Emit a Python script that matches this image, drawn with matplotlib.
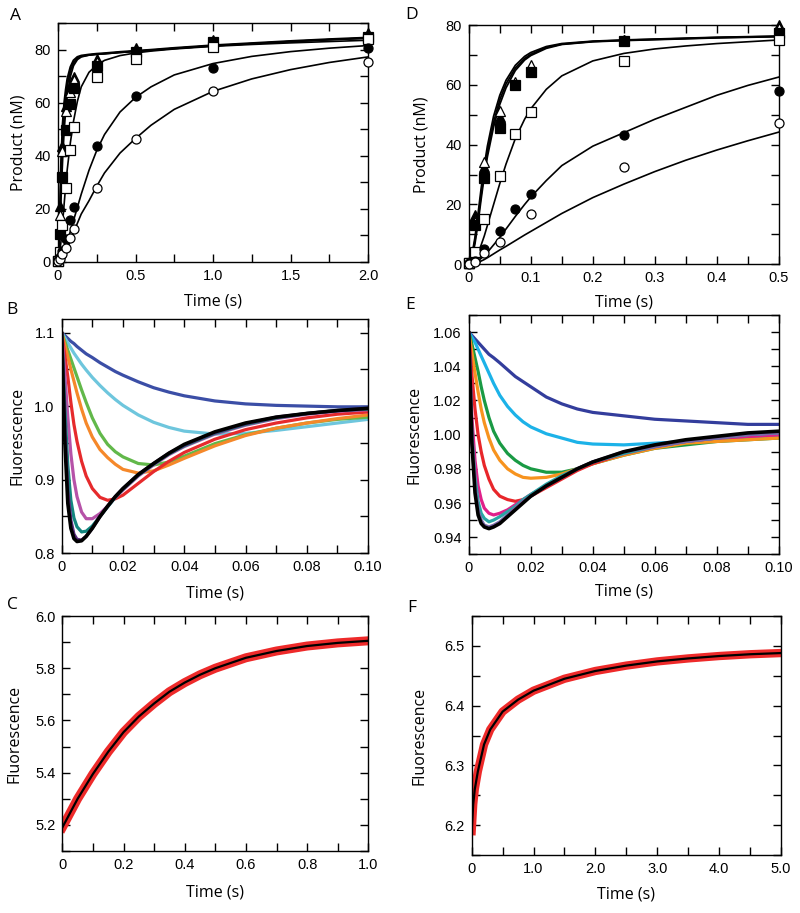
'''
Product formation and fluorescence kinetics, panels A-F
'''

import numpy as np
import matplotlib
matplotlib.use('Agg')
import matplotlib.pyplot as plt
from matplotlib.ticker import MultipleLocator

# ---------------- panel A: product (nM) vs time, 0-2 s ----------------
times_a = [0, 0.01, 0.025, 0.05, 0.075, 0.1, 0.25, 0.5, 1.0, 2.0]
a_filled_tri = [0.5, 21, 43.5, 58.8, 66, 69.6, 76.4, 80.6, 83.8, 86.3]
a_open_tri = [0.5, 17.6, 41.6, 56.7, 64, 68.5, 75.5, 79.5, 83, 84.3]
a_filled_sq = [0.3, 10.3, 32.1, 49.7, 59.4, 65.5, 73.7, 79.2, 83, 85]
a_open_sq = [0.3, 3.5, 13.9, 28, 42.2, 51, 69.9, 76.6, 81.2, 84]
a_filled_circ = [0.5, 1.9, 4, 8.4, 15.7, 20.6, 43.8, 62.6, 73, 80.6]
a_open_circ = [0.2, 1, 3, 5.2, 8.8, 12.2, 28, 46.2, 64.6, 75.2]

curve_t_a = [0, 0.01, 0.02, 0.03, 0.04, 0.05, 0.06, 0.08, 0.1, 0.125, 0.15,
             0.2, 0.25, 0.3, 0.4, 0.5, 0.6, 0.75, 1.0, 1.25, 1.5, 1.75, 2.0]
a_fit_fast1 = [0, 14, 38, 52, 60, 65, 69, 73.5, 76, 77.3, 77.8, 78.2, 78.5,
               78.7, 79.2, 79.6, 80, 80.7, 81.7, 82.5, 83.3, 84, 84.6]
a_fit_fast2 = [0, 12, 33, 47, 56, 62, 66.5, 72, 75, 76.8, 77.5, 78, 78.3,
               78.5, 79, 79.4, 79.8, 80.5, 81.5, 82.3, 83.1, 83.8, 84.4]
a_fit_fast3 = [0, 8, 25, 39, 50, 57.5, 63, 70, 74, 76.3, 77.3, 78, 78.3,
               78.5, 79, 79.4, 79.8, 80.5, 81.5, 82.3, 83.1, 83.8, 84.4]
a_fit_open_sq = [0, 2.5, 8, 15, 22, 29, 35, 45, 53, 60.5, 66, 71.5, 74.2,
                 76, 77.8, 78.8, 79.5, 80.3, 81.3, 82, 82.6, 83.1, 83.6]
a_fit_filled_circ = [0, 0.3, 1, 2.2, 3.7, 5.5, 7.5, 11.5, 15.5, 20.5, 25.5,
                     34.5, 42, 48, 56.5, 62, 66, 70.5, 74.8, 77.5, 79.3,
                     80.6, 81.6]
a_fit_open_circ = [0, 0.2, 0.7, 1.5, 2.5, 3.6, 5, 7.8, 10.8, 14.5, 18, 23,
                   28.5, 33.5, 41, 46.5, 51.5, 57.5, 64.3, 69, 72.5, 75.2,
                   77.3]

# ---------------- panel D: product (nM) vs time, 0-0.5 s ----------------
times_d = [0, 0.01, 0.025, 0.05, 0.075, 0.1, 0.25, 0.5]
d_filled_tri = [0.5, 16.5, 32.7, 49.4, 60.2, 66.1, 75, 80]
d_open_tri = [0.5, 14, 34.3, 51.3, 61, 66.7, 75, 78.9]
d_filled_sq = [0.3, 13.2, 28.8, 45.5, 59.8, 64.4, 74.8, 77.2]
d_open_sq = [0.3, 4, 15.2, 29.5, 43.6, 50.8, 68.1, 75]
d_filled_circ = [0.3, 1.1, 5.1, 11.1, 18.5, 23.4, 43.2, 58]
d_open_circ = [0.2, 0.8, 3.7, 7.6, np.nan, 16.7, 32.6, 47.1]

curve_t_d = [0, 0.005, 0.01, 0.015, 0.02, 0.025, 0.03, 0.04, 0.05, 0.06,
             0.075, 0.09, 0.1, 0.125, 0.15, 0.2, 0.25, 0.3, 0.35, 0.4,
             0.45, 0.5]
d_fit_fast1 = [0, 3, 9, 17, 25.5, 33, 39.5, 49.5, 56.5, 61.5, 66.5, 69.5,
               70.8, 72.8, 73.8, 74.6, 75, 75.3, 75.6, 75.9, 76.1, 76.3]
d_fit_fast2 = [0, 2.5, 8, 15.5, 23.5, 31, 37.5, 47.5, 55, 60.3, 65.6, 68.8,
               70.2, 72.5, 73.6, 74.5, 74.9, 75.2, 75.5, 75.8, 76, 76.2]
d_fit_fast3 = [0, 2, 7, 14, 22, 29.5, 36, 46, 53.5, 59, 64.8, 68.3, 69.8,
               72.2, 73.5, 74.4, 74.8, 75.1, 75.4, 75.7, 75.9, 76.1]
d_fit_open_sq = [0, 0.5, 1.8, 3.8, 6.5, 9.5, 13, 20, 27, 33.5, 42, 48.5,
                 52, 58.5, 63, 68, 70.5, 72, 73, 73.8, 74.4, 75]
d_fit_filled_circ = [0, 0.2, 0.6, 1.2, 2, 3, 4, 6.5, 9, 11.8, 16, 20, 22.5,
                     28, 33, 39.5, 44, 48.5, 52.5, 56.5, 59.8, 62.6]
d_fit_open_circ = [0, 0.1, 0.3, 0.6, 1.1, 1.6, 2.2, 3.5, 4.8, 6, 7.9, 9.8,
                   11, 14, 17, 22.3, 26.8, 31, 34.8, 38.2, 41.3, 44.2]

# ---------------- panels B and E: fluorescence traces ----------------
trace_t = [0, 0.001, 0.002, 0.003, 0.004, 0.005, 0.0065, 0.008, 0.01,
           0.0125, 0.015, 0.0175, 0.02, 0.025, 0.03, 0.035, 0.04, 0.05,
           0.06, 0.07, 0.08, 0.09, 0.1]

b_colors = ['#3b4ea6', '#6ec6dd', '#62b84a', '#f5882a', '#e62a2c',
            '#b652a8', '#13867f', '#5c2d7e', '#000000']
b_traces = [
    [1.1, 1.096, 1.092, 1.088, 1.085, 1.081, 1.076, 1.071, 1.066, 1.059,
     1.053, 1.047, 1.042, 1.033, 1.025, 1.019, 1.014, 1.007, 1.003, 1.001,
     1.0, 0.999, 0.999],
    [1.1, 1.093, 1.086, 1.079, 1.072, 1.066, 1.057, 1.049, 1.039, 1.028,
     1.018, 1.009, 1.001, 0.988, 0.978, 0.971, 0.966, 0.962, 0.963, 0.967,
     0.972, 0.977, 0.982],
    [1.1, 1.088, 1.076, 1.064, 1.052, 1.04, 1.022, 1.005, 0.984, 0.963,
     0.948, 0.938, 0.931, 0.922, 0.92, 0.924, 0.932, 0.949, 0.961, 0.97,
     0.977, 0.982, 0.985],
    [1.1, 1.083, 1.067, 1.05, 1.034, 1.018, 0.996, 0.977, 0.958, 0.941,
     0.93, 0.921, 0.914, 0.909, 0.912, 0.92, 0.929, 0.946, 0.96, 0.97,
     0.977, 0.983, 0.988],
    [1.1, 1.07, 1.04, 1.005, 0.975, 0.952, 0.925, 0.905, 0.888, 0.876,
     0.872, 0.874, 0.879, 0.895, 0.911, 0.925, 0.937, 0.955, 0.968, 0.977,
     0.984, 0.989, 0.992],
    [1.1, 1.045, 0.985, 0.935, 0.9, 0.877, 0.856, 0.847, 0.847, 0.854,
     0.864, 0.876, 0.886, 0.905, 0.92, 0.934, 0.945, 0.962, 0.974, 0.983,
     0.989, 0.993, 0.995],
    [1.1, 1.0, 0.92, 0.872, 0.848, 0.836, 0.829, 0.83, 0.837, 0.85, 0.863,
     0.876, 0.887, 0.906, 0.921, 0.935, 0.946, 0.963, 0.975, 0.984, 0.99,
     0.994, 0.996],
    [1.1, 0.975, 0.885, 0.845, 0.826, 0.819, 0.818, 0.823, 0.834, 0.85,
     0.864, 0.877, 0.888, 0.907, 0.922, 0.936, 0.947, 0.964, 0.976, 0.985,
     0.99, 0.994, 0.997],
    [1.1, 0.955, 0.868, 0.834, 0.82, 0.816, 0.817, 0.823, 0.834, 0.85,
     0.864, 0.877, 0.888, 0.907, 0.922, 0.936, 0.948, 0.965, 0.977, 0.985,
     0.99, 0.994, 0.997],
]

e_colors = ['#333d9c', '#1cb2e8', '#1a9a44', '#f7931e', '#e8262a',
            '#e0208a', '#2aa5a5', '#7b68a8', '#000000']
e_traces = [
    [1.06, 1.058, 1.056, 1.054, 1.052, 1.05, 1.047, 1.045, 1.042, 1.038,
     1.034, 1.031, 1.028, 1.022, 1.018, 1.015, 1.013, 1.011, 1.009, 1.008,
     1.007, 1.006, 1.006],
    [1.06, 1.057, 1.054, 1.05, 1.046, 1.042, 1.036, 1.03, 1.023, 1.0165,
     1.0115, 1.0075, 1.0045, 1.0005, 0.998, 0.9955, 0.9945, 0.994, 0.995,
     0.996, 0.998, 0.999, 1.0],
    [1.06, 1.053, 1.045, 1.037, 1.028, 1.02, 1.01, 1.002, 0.995, 0.989,
     0.985, 0.982, 0.98, 0.978, 0.978, 0.98, 0.983, 0.988, 0.992, 0.994,
     0.996, 0.997, 0.998],
    [1.06, 1.048, 1.036, 1.025, 1.015, 1.007, 0.998, 0.991, 0.985, 0.98,
     0.977, 0.975, 0.9745, 0.975, 0.977, 0.98, 0.983, 0.988, 0.992, 0.995,
     0.996, 0.997, 0.998],
    [1.06, 1.035, 1.015, 1.0, 0.99, 0.982, 0.974, 0.968, 0.964, 0.962,
     0.961, 0.962, 0.964, 0.969, 0.974, 0.979, 0.983, 0.989, 0.993, 0.996,
     0.998, 0.999, 1.0],
    [1.06, 1.01, 0.985, 0.97, 0.962, 0.957, 0.954, 0.953, 0.954, 0.956,
     0.959, 0.962, 0.965, 0.97, 0.975, 0.98, 0.984, 0.989, 0.993, 0.996,
     0.998, 0.999, 1.0],
    [1.06, 1.0, 0.975, 0.961, 0.954, 0.951, 0.949, 0.95, 0.952, 0.955,
     0.958, 0.962, 0.965, 0.971, 0.976, 0.98, 0.984, 0.989, 0.993, 0.996,
     0.998, 1.0, 1.001],
    [1.06, 0.998, 0.97, 0.956, 0.95, 0.947, 0.946, 0.947, 0.949, 0.953,
     0.957, 0.961, 0.964, 0.97, 0.975, 0.98, 0.984, 0.99, 0.993, 0.996,
     0.998, 1.0, 1.001],
    [1.06, 0.995, 0.966, 0.953, 0.948, 0.946, 0.945, 0.946, 0.948, 0.952,
     0.956, 0.96, 0.964, 0.97, 0.975, 0.98, 0.984, 0.99, 0.994, 0.997,
     0.999, 1.001, 1.002],
]

# ---------------- panels C and F: single trace with fit ----------------
c_time = [0, 0.05, 0.1, 0.15, 0.2, 0.25, 0.3, 0.35, 0.4, 0.45, 0.5, 0.6,
          0.7, 0.8, 0.9, 1.0]
c_trace = [5.19, 5.3, 5.395, 5.48, 5.555, 5.615, 5.665, 5.71, 5.745, 5.775,
           5.8, 5.84, 5.866, 5.885, 5.897, 5.905]
c_fit = [5.19, 5.3, 5.395, 5.48, 5.555, 5.615, 5.665, 5.71, 5.745, 5.775,
         5.8, 5.84, 5.866, 5.885, 5.897, 5.905]

f_time = [0, 0.025, 0.05, 0.1, 0.2, 0.3, 0.5, 0.75, 1.0, 1.5, 2.0, 2.5,
          3.0, 3.5, 4.0, 4.5, 5.0]
f_trace = [6.19, 6.235, 6.26, 6.29, 6.335, 6.36, 6.39, 6.41, 6.425, 6.445,
           6.458, 6.467, 6.474, 6.479, 6.483, 6.486, 6.488]
f_fit = [6.19, 6.235, 6.26, 6.29, 6.335, 6.36, 6.39, 6.41, 6.425, 6.445,
         6.458, 6.467, 6.474, 6.479, 6.483, 6.486, 6.488]

TICK_FONT = 'Liberation Sans'
LABEL_FONT = 'Open Sans'


def style_axes(ax, xlim, ylim, xticks, xlabels, xminor, yticks, ylabels,
               yminor):
    '''
    Box axes with inward ticks on all four sides
    '''
    ax.set_xlim(*xlim)
    ax.set_ylim(*ylim)
    ax.set_xticks(xticks, xlabels)
    ax.set_yticks(yticks, ylabels)
    ax.xaxis.set_minor_locator(MultipleLocator(xminor))
    ax.yaxis.set_minor_locator(MultipleLocator(yminor))
    ax.tick_params(which='both', direction='in', top=True, right=True,
                   width=1.0, labelsize=10.5, pad=5)
    ax.tick_params(which='major', length=6)
    ax.tick_params(which='minor', length=6)
    for label in ax.get_xticklabels() + ax.get_yticklabels():
        label.set_fontfamily(TICK_FONT)
    for spine in ax.spines.values():
        spine.set_linewidth(1.0)


def set_labels(ax, ylabel, xpos, ypos):
    '''
    Axis titles placed at fixed axes coordinates
    '''
    ax.set_xlabel('Time (s)', fontsize=11.5, family=LABEL_FONT, va='center')
    ax.set_ylabel(ylabel, fontsize=11.5, family=LABEL_FONT, va='center')
    ax.xaxis.set_label_coords(0.5, xpos)
    ax.yaxis.set_label_coords(ypos, 0.5)


def plot_product(ax, times, series, curve_t, fits):
    '''
    Markers with fitted curves for the product panels
    '''
    for fit, width in fits:
        ax.plot(curve_t, fit, color='black', lw=width, zorder=2)
    styles = [('^', 'black'), ('^', 'white'), ('s', 'black'),
              ('s', 'white'), ('o', 'black'), ('o', 'white')]
    for values, (marker, face) in zip(series, styles):
        ax.plot(times, values, ls='none', marker=marker, ms=6.5,
                mfc=face, mec='black', mew=0.9, zorder=3, clip_on=False)


def plot_traces(ax, colors, traces):
    '''
    Coloured fluorescence traces, black last on top
    '''
    for color, trace in zip(colors, traces):
        width = 2.6 if color == '#000000' else 2.3
        ax.plot(trace_t, trace, color=color, lw=width,
                solid_joinstyle='round', solid_capstyle='round')


def run():
    '''
    Build the six panels and save the figure
    '''
    fig = plt.figure(figsize=(8, 9.13), dpi=100)

    ax_a = fig.add_axes([0.0725, 0.7134, 0.3875, 0.2611])
    plot_product(ax_a, times_a,
                 [a_filled_tri, a_open_tri, a_filled_sq, a_open_sq,
                  a_filled_circ, a_open_circ],
                 curve_t_a,
                 [(a_fit_fast1, 1.5), (a_fit_fast2, 1.3), (a_fit_fast3, 1.3),
                  (a_fit_open_sq, 1.2), (a_fit_filled_circ, 1.2),
                  (a_fit_open_circ, 1.2)])
    style_axes(ax_a, (0, 2.0), (0, 90), [0, 0.5, 1.0, 1.5, 2.0],
               ['0', '0.5', '1.0', '1.5', '2.0'], 0.25,
               [0, 20, 40, 60, 80], ['0', '20', '40', '60', '80'], 10)
    set_labels(ax_a, 'Product (nM)', -0.169, -0.129)

    ax_d = fig.add_axes([0.586, 0.7105, 0.3875, 0.2621])
    plot_product(ax_d, times_d,
                 [d_filled_tri, d_open_tri, d_filled_sq, d_open_sq,
                  d_filled_circ, d_open_circ],
                 curve_t_d,
                 [(d_fit_fast1, 1.3), (d_fit_fast2, 1.3), (d_fit_fast3, 1.3),
                  (d_fit_open_sq, 1.2), (d_fit_filled_circ, 1.2),
                  (d_fit_open_circ, 1.2)])
    style_axes(ax_d, (0, 0.5), (0, 80), [0, 0.1, 0.2, 0.3, 0.4, 0.5],
               ['0', '0.1', '0.2', '0.3', '0.4', '0.5'], 0.05,
               [0, 20, 40, 60, 80], ['0', '20', '40', '60', '80'], 10)
    set_labels(ax_d, 'Product (nM)', -0.160, -0.153)

    ax_b = fig.add_axes([0.0771, 0.394, 0.383, 0.2563])
    plot_traces(ax_b, b_colors, b_traces)
    style_axes(ax_b, (0, 0.1), (0.8, 1.118),
               [0, 0.02, 0.04, 0.06, 0.08, 0.10],
               ['0', '0.02', '0.04', '0.06', '0.08', '0.10'], 0.01,
               [0.8, 0.9, 1.0, 1.1], ['0.8', '0.9', '1.0', '1.1'], 0.05)
    set_labels(ax_b, 'Fluorescence', -0.170, -0.143)

    ax_e = fig.add_axes([0.586, 0.3929, 0.3875, 0.2621])
    plot_traces(ax_e, e_colors, e_traces)
    style_axes(ax_e, (0, 0.1), (0.93, 1.07),
               [0, 0.02, 0.04, 0.06, 0.08, 0.10],
               ['0', '0.02', '0.04', '0.06', '0.08', '0.10'], 0.01,
               [0.94, 0.96, 0.98, 1.0, 1.02, 1.04, 1.06],
               ['0.94', '0.96', '0.98', '1.00', '1.02', '1.04', '1.06'], 0.01)
    set_labels(ax_e, 'Fluorescence', -0.156, -0.174)

    ax_c = fig.add_axes([0.0779, 0.0679, 0.3825, 0.2574])
    ax_c.plot(c_time, c_trace, color='#ee2a2a', lw=6.5)
    ax_c.plot(c_time, c_fit, color='black', lw=1.6)
    style_axes(ax_c, (0, 1.0), (5.1, 6.0), [0, 0.2, 0.4, 0.6, 0.8, 1.0],
               ['0', '0.2', '0.4', '0.6', '0.8', '1.0'], 0.1,
               [5.2, 5.4, 5.6, 5.8, 6.0], ['5.2', '5.4', '5.6', '5.8', '6.0'],
               0.1)
    set_labels(ax_c, 'Fluorescence', -0.177, -0.155)

    ax_f = fig.add_axes([0.5896, 0.0635, 0.3866, 0.2618])
    ax_f.plot(f_time, f_trace, color='#ee2a2a', lw=6.0)
    ax_f.plot(f_time, f_fit, color='black', lw=1.6)
    style_axes(ax_f, (0, 5.0), (6.15, 6.55), [0, 1, 2, 3, 4, 5],
               ['0', '1.0', '2.0', '3.0', '4.0', '5.0'], 0.5,
               [6.2, 6.3, 6.4, 6.5], ['6.2', '6.3', '6.4', '6.5'], 0.05)
    set_labels(ax_f, 'Fluorescence', -0.167, -0.170)

    letters = [('A', 15, 16), ('D', 412, 15), ('B', 12, 310),
               ('E', 410, 305), ('C', 12, 605), ('F', 412, 608)]
    for letter, x_px, y_px in letters:
        fig.text(x_px / 800, 1 - y_px / 913, letter, fontsize=12.5,
                 family=LABEL_FONT, ha='center', va='center')

    fig.savefig('out.png', dpi=100)


run()
